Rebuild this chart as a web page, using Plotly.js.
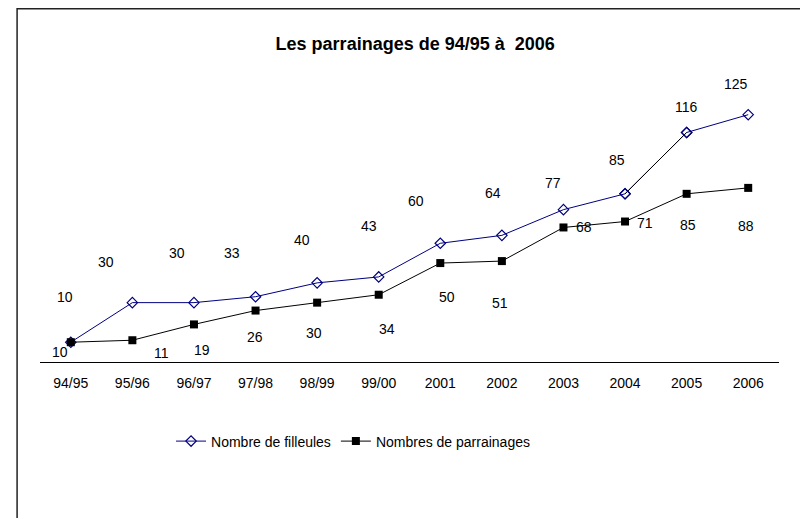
<!DOCTYPE html>
<html>
<head>
<meta charset="utf-8">
<script src="https://cdn.plot.ly/plotly-3.0.1.min.js"></script>
<style>
html,body{margin:0;padding:0;background:#fff;}
#chart{width:800px;height:518px;}
</style>
</head>
<body>
<div id="chart"></div>
<script>
const categories = ["94/95","95/96","96/97","97/98","98/99","99/00","2001","2002","2003","2004","2005","2006"];
const filleules = [10,30,30,33,40,43,60,64,77,85,116,125];
const parrainages = [10,11,19,26,30,34,50,51,68,71,85,88];
const seriesNames = ["Nombre de filleules","Nombres de parrainages"];
const titleText = "Les parrainages de 94/95 à\u00a0 2006";

// label offsets (px) reproducing manually placed data labels
const offF = [[-6,-45],[-26,-41],[-17,-50],[-24,-44],[-15,-43],[-10,-51],[-24,-42],[-9,-42],[-10,-27],[-8,-34],[0,-25],[-12,-31]];
const offP = [[-11,10],[29,13],[8,26],[-1,26],[-3,30],[8,34],[7,34],[-2,42],[21,0],[20,1],[1,31],[-2,38]];

const FONT = "Liberation Sans, Arial, sans-serif";
const NAVY = "#000080";

const traces = [
  {x: categories, y: filleules, name: seriesNames[0], type: "scatter", mode: "lines+markers",
   line: {color: NAVY, width: 1}, marker: {symbol: "diamond-open", size: 8, color: NAVY, line: {width: 1.2, color: NAVY}}},
  // black segment between 2004 and 2005 (as in the original)
  {x: categories.slice(9, 11), y: filleules.slice(9, 11), type: "scatter", mode: "lines",
   line: {color: "#000", width: 1}, showlegend: false, hoverinfo: "skip"},
  {x: categories.slice(9, 11), y: filleules.slice(9, 11), type: "scatter", mode: "markers",
   marker: {symbol: "diamond-open", size: 8, color: NAVY, line: {width: 1.2, color: NAVY}}, showlegend: false, hoverinfo: "skip"},
  {x: categories, y: parrainages, name: seriesNames[1], type: "scatter", mode: "lines+markers",
   line: {color: "#000", width: 1}, marker: {symbol: "square", size: 8, color: "#000"}}
];

const annotations = [];
categories.forEach((c, i) => {
  annotations.push({x: i, y: filleules[i], xref: "x", yref: "y", text: String(filleules[i]), showarrow: false,
    xshift: offF[i][0], yshift: -offF[i][1], xanchor: "center", yanchor: "middle", font: {family: FONT, size: 14, color: "#000"}});
  annotations.push({x: i, y: parrainages[i], xref: "x", yref: "y", text: String(parrainages[i]), showarrow: false,
    xshift: offP[i][0], yshift: -offP[i][1], xanchor: "center", yanchor: "middle", font: {family: FONT, size: 14, color: "#000"}});
});

const layout = {
  width: 800, height: 518,
  margin: {l: 40, r: 21, t: 85, b: 155.5},
  paper_bgcolor: "#fff", plot_bgcolor: "#fff",
  font: {family: FONT, size: 14, color: "#000"},
  title: {text: "<b>" + titleText + "</b>", font: {family: FONT, size: 18, color: "#000"},
          x: 0.519, xref: "container", xanchor: "center", y: 1 - 44/518, yref: "container", yanchor: "middle"},
  xaxis: {type: "category", categoryorder: "array", categoryarray: categories, range: [-0.5, 11.5], autorange: false,
          showgrid: false, zeroline: false, showline: true, linecolor: "#000", linewidth: 1,
          ticks: "", tickfont: {family: FONT, size: 14, color: "#000"}, ticklabelstandoff: 8, fixedrange: true},
  yaxis: {range: [0, 140], autorange: false, visible: false, showgrid: false, zeroline: false, fixedrange: true},
  showlegend: true,
  legend: {orientation: "h", x: 0.4236, xanchor: "center", y: -0.287, yanchor: "middle",
           font: {family: FONT, size: 14, color: "#000"}, bgcolor: "rgba(0,0,0,0)", traceorder: "normal"},
  annotations: annotations,
  shapes: [{type: "rect", xref: "paper", yref: "paper", x0: -0.031, x1: 1.06, y0: -0.7, y1: 1.275,
            line: {color: "#222", width: 1.5}, fillcolor: "rgba(0,0,0,0)", layer: "below"}]
};

Plotly.newPlot("chart", traces, layout, {displayModeBar: false, staticPlot: true});
</script>
</body>
</html>
